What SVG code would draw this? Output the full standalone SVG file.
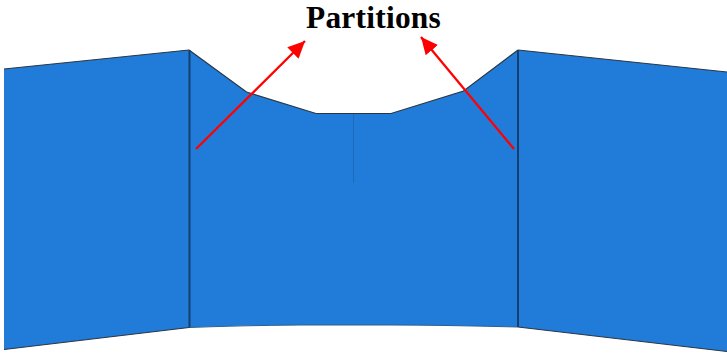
<svg xmlns="http://www.w3.org/2000/svg" width="727" height="354" viewBox="0 0 727 354">
<defs>
<marker id="ah" markerUnits="userSpaceOnUse" markerWidth="19" markerHeight="18" refX="17" refY="8" orient="auto"><path d="M0 0L17 8L0 16Z" fill="#ff0000"/></marker>
</defs>
<style>
.panel{fill:#207cd8;stroke:none}
.edge{fill:none;stroke:#2a3644;stroke-width:1.2}
.fold{fill:none;stroke:#163f6e;stroke-width:2}
.arrow{fill:none;stroke:#ff0000;stroke-width:2.3;marker-end:url(#ah)}
text{font-family:"Liberation Serif","Times New Roman",serif;font-weight:bold;font-size:31.400px;letter-spacing:.25px;fill:#000}
</style>
<rect width="727" height="354" fill="#fff"/>
<g id="panel-left">
<path class="panel" d="M4 69L189 50L189 327.500L4 349.500Z"/>
<path class="edge" d="M4 69L189 50M4 349.500L189 327.500"/>
</g>
<g id="panel-middle">
<path class="panel" d="M189 50L246.500 92L316 113.500L391 113.500L463.500 91L518 50L518 327Q440 325 390 325L300 325Q240 325.500 189 327.500Z"/>
<path class="edge" d="M189 50L246.500 92L316 113.500L391 113.500L463.500 91L518 50"/>
<path d="M189 327.500Q240 325.500 300 325L390 325Q440 325 518 327" fill="none" stroke="#2d5f94" stroke-width="1"/>
<path d="M353.500 114V183" fill="none" stroke="#1c6cbc" stroke-width="1"/>
</g>
<g id="panel-right">
<path class="panel" d="M518 50L727 72L727 351.500L518 327Z"/>
<path class="edge" d="M518 50L727 72M518 327L727 351.500"/>
</g>
<g id="connectors">
<path class="fold" d="M189.500 50V327.500M518 50V327"/>
<path class="arrow" d="M196 149L305 41"/>
<path class="arrow" d="M514 149L421 37"/>
</g>
<g id="label"><text x="306" y="28">Partitions</text></g>
</svg>
